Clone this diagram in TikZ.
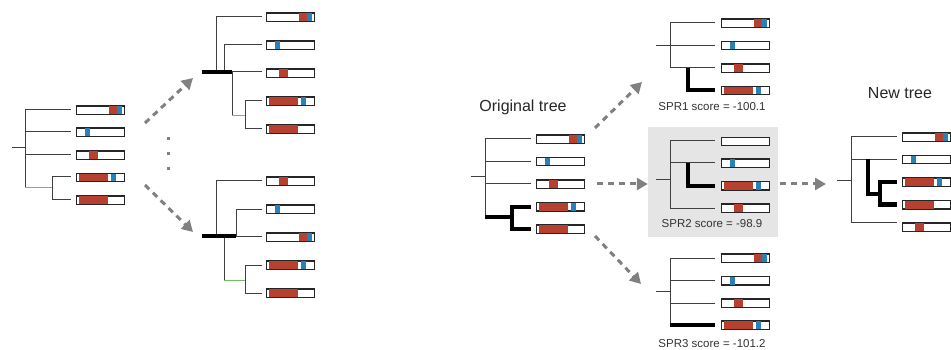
\documentclass[tikz,border=0pt]{standalone}
\usepackage{fontspec}
\setmainfont{Liberation Sans}
\usetikzlibrary{arrows.meta}
\definecolor{barred}{RGB}{183,65,48}
\definecolor{barblue}{RGB}{42,128,185}
\definecolor{brgreen}{RGB}{110,190,100}
\definecolor{arrowgray}{RGB}{128,128,128}
\definecolor{boxgray}{RGB}{229,229,229}
\tikzset{
 br/.style={draw=black!75, line width=1pt},
 thickbr/.style={draw=black, line width=4pt},
 greenbr/.style={draw=brgreen, line width=1pt},
 barbox/.style={draw=black!85, fill=white, line width=0.9pt, minimum width=48pt, minimum height=8pt, inner sep=0pt, anchor=west},
 flow/.style={draw=arrowgray, line width=3pt, dash pattern=on 6pt off 5pt, -{Triangle[length=11pt,width=12pt]}},
 lbl/.style={font=\fontsize{16}{18}\selectfont, text=black!85},
 score/.style={font=\fontsize{11.5}{13}\selectfont, text=black!80},
 dotsq/.style={fill=arrowgray, minimum size=3pt, inner sep=0pt},
}
\def\PA{barred/33/41,barblue/41/46}
\def\PB{barblue/9/14}
\def\PC{barred/13/22}
\def\PD{barred/3/32,barblue/35/40}
\def\PE{barred/3/32}
\newcommand\lbar[4]{%
 \node[barbox] (#1) at (#2,#3) {};
 \foreach \cc/\aa/\bb in #4 {\fill[\cc] ({#2+\aa},{#3-4}) rectangle ({#2+\bb},{#3+4});}
 \draw[black!85, line width=0.9pt] (#1.south west) rectangle (#1.north east);
}
\begin{document}
\begin{tikzpicture}[x=1pt,y=-1pt]
\useasboundingbox (0,0) rectangle (951,350);

% ---------- Tree A (left) ----------
\draw[br] (12,148) -- (25,148);
\draw[br] (25,110) -- (25,188);
\draw[br] (25,110) -- (71,110);
\draw[br] (25,132) -- (71,132);
\draw[br] (25,155) -- (71,155);
\draw[greenbr] (25,188) -- (52,188);
\draw[br] (71,177) -- (52,177) -- (52,200) -- (71,200);
\lbar{a1}{76}{110}{\PA}
\lbar{a2}{76}{132}{\PB}
\lbar{a3}{76}{155}{\PC}
\lbar{a4}{76}{177.5}{\PD}
\lbar{a5}{76}{200}{\PE}

% ---------- Tree B (top middle) ----------
\draw[br] (216,72) -- (216,17) -- (262,17);
\draw[br] (224,72) -- (224,45) -- (262,45);
\draw[br] (232,72) -- (262,72);
\draw[br] (232,72) -- (232,116);
\draw[greenbr] (232,116) -- (245,116);
\draw[br] (262,101) -- (245,101) -- (245,129) -- (262,129);
\draw[thickbr] (202,72) -- (232,72);
\lbar{b1}{266}{17}{\PA}
\lbar{b2}{266}{45}{\PB}
\lbar{b3}{266}{73}{\PC}
\lbar{b4}{266}{101}{\PD}
\lbar{b5}{266}{129}{\PE}

% ---------- Tree C (bottom middle) ----------
\draw[br] (216,236) -- (216,181) -- (262,181);
\draw[br] (236,236) -- (236,209) -- (262,209);
\draw[br] (236,236) -- (262,236);
\draw[br] (224,236) -- (224,280);
\draw[greenbr] (224,280) -- (245,280);
\draw[br] (262,265) -- (245,265) -- (245,293) -- (262,293);
\draw[thickbr] (202,236) -- (236,236);
\lbar{c1}{266}{181}{\PC}
\lbar{c2}{266}{209}{\PB}
\lbar{c3}{266}{237}{\PA}
\lbar{c4}{266}{265}{\PD}
\lbar{c5}{266}{293}{\PE}

% arrows and dots on the left
\coordinate (a1s) at (145,123);
\coordinate (a1e) at (193,78);
\coordinate (a2s) at (145,185);
\coordinate (a2e) at (193,232);
\draw[flow] (a1s) -- (a1e);
\draw[flow] (a2s) -- (a2e);
\node[dotsq] (d1) at (168,139) {};
\node[dotsq] (d2) at (168,154) {};
\node[dotsq] (d3) at (168,169) {};

% ---------- Original tree ----------
\node[lbl] (origlbl) at (523,107) {Original tree};
\draw[br] (471,177) -- (485,177);
\draw[br] (485,139) -- (485,217);
\draw[br] (485,139) -- (531,139);
\draw[br] (485,161.5) -- (531,161.5);
\draw[br] (485,184) -- (531,184);
\draw[thickbr] (485,217) -- (512,217);
\draw[thickbr] (531,206.5) -- (512,206.5) -- (512,229) -- (531,229);
\lbar{o1}{536}{139}{\PA}
\lbar{o2}{536}{161.5}{\PB}
\lbar{o3}{536}{184}{\PC}
\lbar{o4}{536}{206.5}{\PD}
\lbar{o5}{536}{229}{\PE}

% ---------- SPR1 ----------
\draw[br] (656,45.5) -- (715,45.5);
\draw[br] (670,23) -- (670,68);
\draw[br] (670,23) -- (715,23);
\draw[br] (670,68) -- (715,68);
\draw[thickbr] (688,68) -- (688,90.5) -- (715,90.5);
\lbar{e1}{721}{23}{\PA}
\lbar{e2}{721}{45.5}{\PB}
\lbar{e3}{721}{68}{\PC}
\lbar{e4}{721}{90.5}{\PD}
\node[score] (s1) at (712,107) {SPR1 score = -100.1};

% ---------- SPR2 (highlighted) ----------
\node[fill=boxgray, inner sep=0pt, minimum width=130pt, minimum height=110pt] (box2) at (713,182) {};
\draw[br] (656,180) -- (670,180);
\draw[br] (670,141) -- (670,208);
\draw[br] (670,141) -- (715,141);
\draw[br] (670,163) -- (715,163);
\draw[br] (670,208) -- (715,208);
\draw[thickbr] (688,163) -- (688,185.6) -- (715,185.6);
\node[barbox] (f1) at (721,141) {};
\lbar{f2}{721}{163.3}{\PB}
\lbar{f3}{721}{185.6}{\PD}
\lbar{f4}{721}{208}{\PC}
\node[score] (s2) at (712,224) {SPR2 score = -98.9};

% ---------- SPR3 ----------
\draw[br] (656,291.7) -- (670,291.7);
\draw[br] (670,258.3) -- (670,325);
\draw[br] (670,258.3) -- (715,258.3);
\draw[br] (670,280.5) -- (715,280.5);
\draw[br] (670,303) -- (715,303);
\draw[thickbr] (670,325) -- (715,325);
\lbar{g1}{721}{258.3}{\PA}
\lbar{g2}{721}{280.5}{\PB}
\lbar{g3}{721}{303}{\PC}
\lbar{g4}{721}{325}{\PD}
\node[score] (s3) at (712,344) {SPR3 score = -101.2};

% arrows from original tree
\coordinate (o1s) at (595,128);
\coordinate (o1e) at (642,82);
\coordinate (o2s) at (597,184);
\coordinate (o3s) at (595,236);
\coordinate (o3e) at (641,284);
\draw[flow] (o1s) -- (o1e);
\draw[flow] (o2s) -- (box2.west |- o2s);
\draw[flow] (o3s) -- (o3e);

% ---------- New tree ----------
\node[lbl] (newlbl) at (900,93) {New tree};
\draw[br] (837,181) -- (851,181);
\draw[br] (851,137) -- (851,222);
\draw[br] (851,137) -- (897,137);
\draw[br] (851,159.5) -- (897,159.5);
\draw[br] (851,222) -- (897,222);
\draw[thickbr] (868,159.5) -- (868,194) -- (880,194);
\draw[thickbr] (897,182) -- (880,182) -- (880,204.5) -- (897,204.5);
\lbar{h1}{902}{137}{\PA}
\lbar{h2}{902}{159.5}{\PB}
\lbar{h3}{902}{182}{\PD}
\lbar{h4}{902}{204.5}{\PE}
\lbar{h5}{902}{227}{\PC}

\coordinate (n1s) at (780,184);
\coordinate (n1e) at (826,184);
\draw[flow] (n1s) -- (n1e);
\end{tikzpicture}
\end{document}
